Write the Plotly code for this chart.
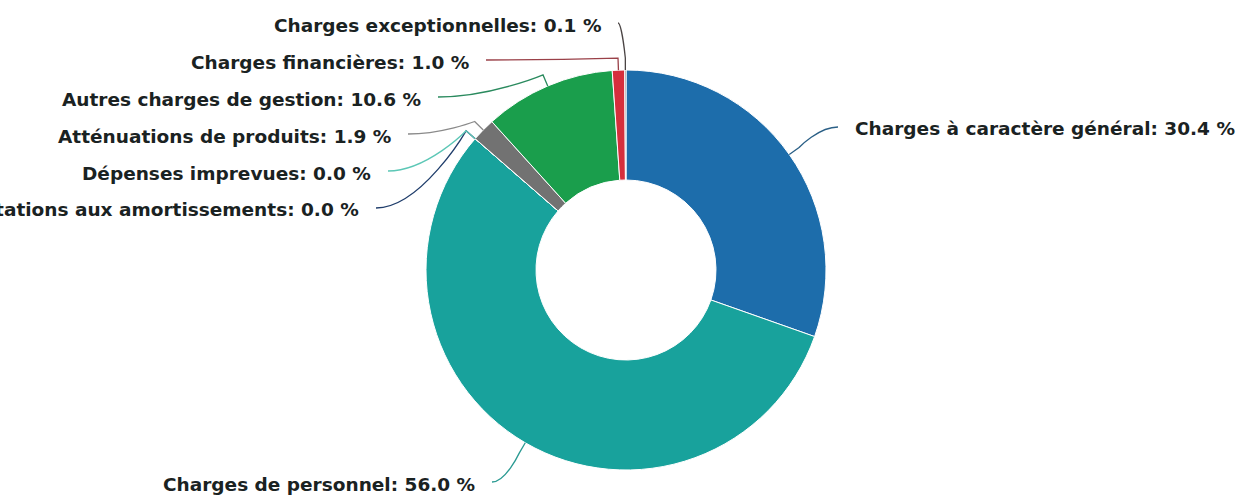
import math
import plotly.graph_objects as go

# Budget breakdown (share of total operating expenses, %)
categories = [
    "Charges à caractère général",
    "Charges de personnel",
    "Dotations aux amortissements",
    "Dépenses imprevues",
    "Atténuations de produits",
    "Autres charges de gestion",
    "Charges financières",
    "Charges exceptionnelles",
]
shares = [30.4, 56.0, 0.0, 0.0, 1.9, 10.6, 1.0, 0.1]

slice_colors = ["#1d6dab", "#18a29c", "#1f3d6b", "#5cc7b6",
                "#727272", "#1a9e4c", "#d52f3d", "#5a4a48"]
connector_colors = ["#2a5f86", "#2a9a92", "#1f3d6b", "#5cc7b6",
                    "#8a8a8a", "#2a8a5e", "#9a4048", "#4a4444"]

# Figure geometry (pixels)
W, H = 1239, 496
CX, CY, R = 626, 270, 200
HOLE = 0.45
BREAK = 12  # radial length of the first connector segment

# Label anchors: end of each connector (pixels) and side of the pie
label_end_x = [838, 492, 376, 388, 408, 438, 486, 618]
label_end_y = [127, 482, 208, 171, 134, 97, 60, 23]
label_side = [1, -1, -1, -1, -1, -1, -1, -1]
TEXT_GAP = 15


def px(x):
    return x / W


def py(y):
    return 1 - y / H


fig = go.Figure(
    go.Pie(
        labels=categories,
        values=shares,
        hole=HOLE,
        sort=False,
        direction="clockwise",
        rotation=0,
        marker=dict(colors=slice_colors, line=dict(color="#ffffff", width=1)),
        textinfo="none",
        textposition="none",
        hoverinfo="label+percent",
        showlegend=False,
        domain=dict(x=[px(CX - R), px(CX + R)], y=[py(CY + R), py(CY - R)]),
    )
)

total = sum(shares)
shapes, annotations = [], []
cum = 0.0
for i, (name, val) in enumerate(zip(categories, shares)):
    mid = (cum + val / 2) / total * 2 * math.pi
    cum += val
    ex, ey = CX + R * math.sin(mid), CY - R * math.cos(mid)
    bx, by = CX + (R + BREAK) * math.sin(mid), CY - (R + BREAK) * math.cos(mid)
    lx, ly = label_end_x[i], label_end_y[i]
    c1x = lx + (bx - lx) * 0.5
    path = (f"M {px(lx)} {py(ly)} C {px(c1x)} {py(ly)} {px(bx)} {py(by)} "
            f"{px(bx)} {py(by)} L {px(ex)} {py(ey)}")
    shapes.append(dict(type="path", path=path, xref="paper", yref="paper",
                       line=dict(color=connector_colors[i], width=1.3)))
    side = label_side[i]
    annotations.append(dict(
        x=px(lx + side * TEXT_GAP), y=py(ly + 2), xref="paper", yref="paper",
        text=f"<b>{name}: {val:.1f} %</b>", showarrow=False,
        xanchor="left" if side > 0 else "right", yanchor="middle",
        font=dict(family="DejaVu Sans", size=18.5, color="#1a2222"),
    ))

fig.update_layout(
    width=W, height=H,
    margin=dict(l=0, r=0, t=0, b=0),
    paper_bgcolor="#ffffff", plot_bgcolor="#ffffff",
    shapes=shapes, annotations=annotations,
)

fig.write_html("out.html")
